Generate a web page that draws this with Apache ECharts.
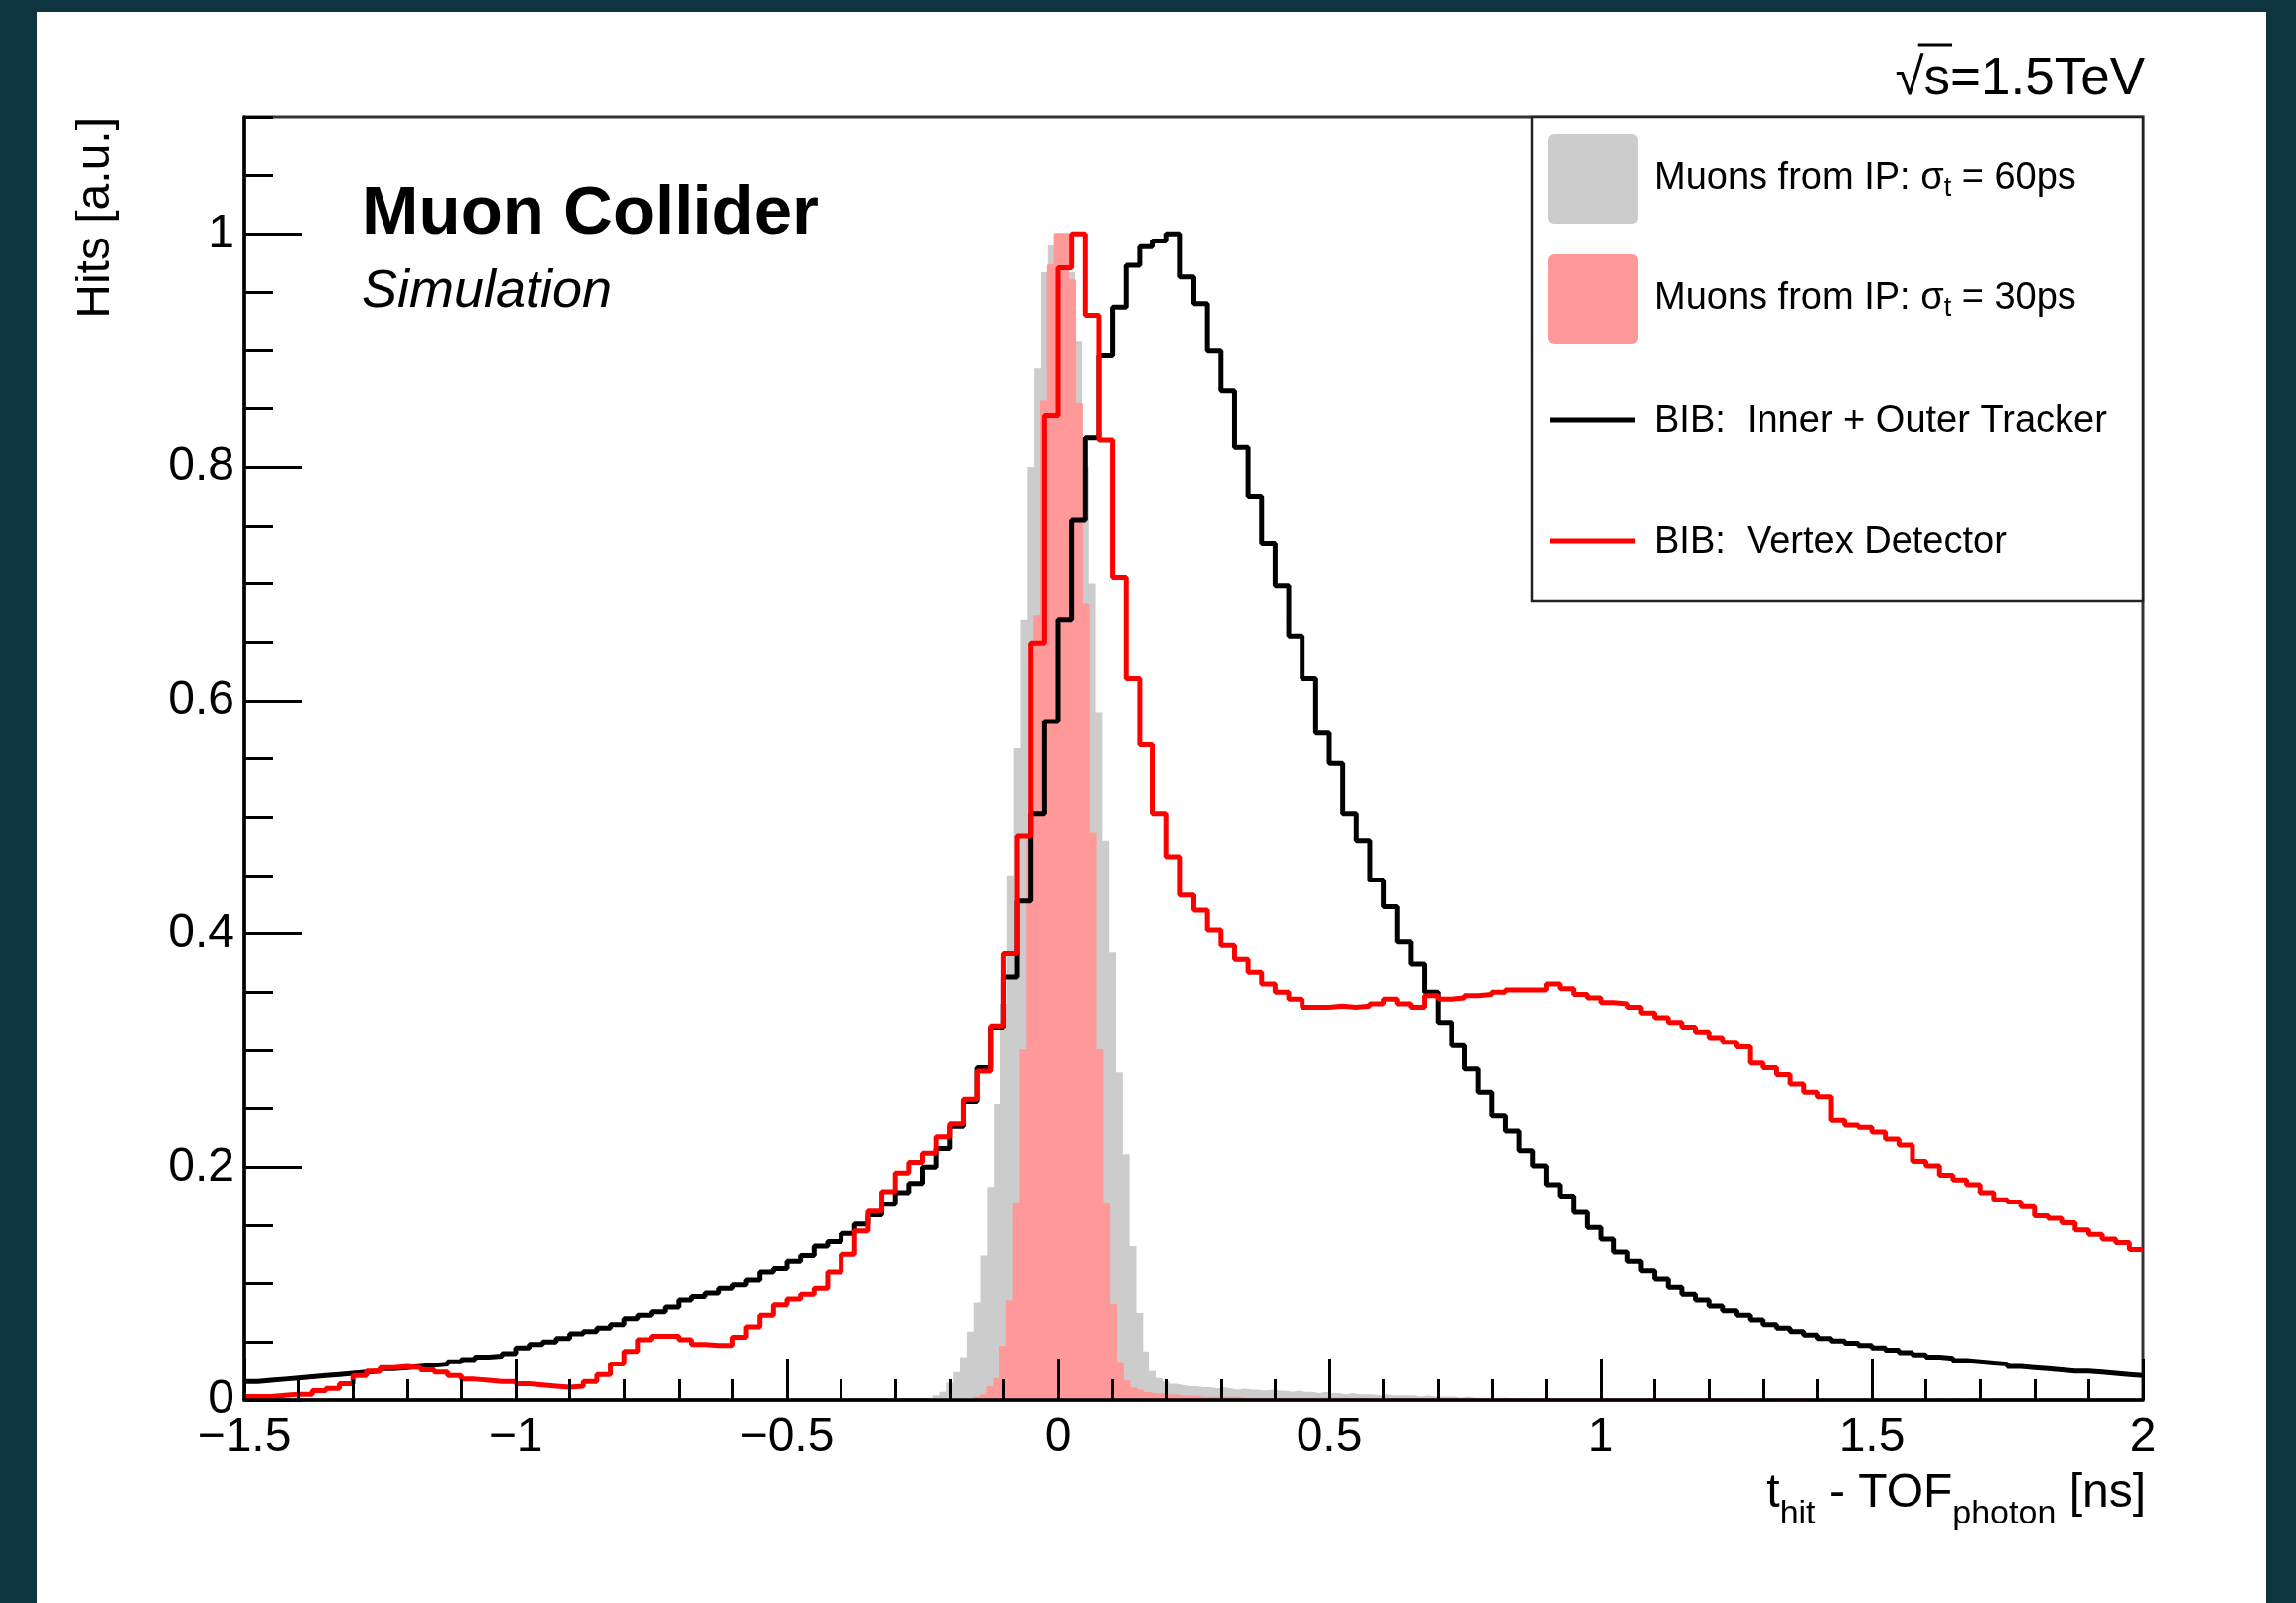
<!DOCTYPE html>
<html><head><meta charset="utf-8">
<script src="https://cdn.jsdelivr.net/npm/echarts@6/dist/echarts.min.js"></script>
<style>
html,body{margin:0;padding:0;width:2311px;height:1613px;overflow:hidden;background:#0e3440;}
#panel{position:absolute;left:37px;top:12px;width:2244px;height:1601px;background:#ffffff;}
#chart{position:absolute;left:0;top:0;width:2311px;height:1613px;}
</style></head><body>
<div id="panel"></div><div id="chart"></div>
<script>
// ---------- data ----------
const xTicks = [-1.5, -1, -0.5, 0, 0.5, 1, 1.5, 2];
const yTicks = [0, 0.2, 0.4, 0.6, 0.8, 1];
const yMax = 1.1;

// BIB histograms: 140 bins of 0.025 ns from -1.5 ns
const bibBinStart = -1.5;
const bibBinWidth = 0.025;
const bibTracker = [
 0.016,0.017,0.018,0.019,0.020,0.021,0.022,0.023,0.024,0.025,
 0.027,0.028,0.029,0.030,0.031,0.033,0.035,0.037,0.038,0.040,
 0.045,0.048,0.050,0.053,0.057,0.059,0.062,0.065,0.070,0.073,
 0.076,0.080,0.086,0.089,0.092,0.096,0.099,0.103,0.110,0.113,
 0.119,0.124,0.132,0.136,0.143,0.151,0.159,0.168,0.178,0.186,
 0.200,0.216,0.235,0.256,0.285,0.320,0.363,0.428,0.503,0.582,
 0.669,0.755,0.825,0.896,0.937,0.973,0.989,0.994,1.000,0.963,
 0.940,0.900,0.866,0.817,0.775,0.735,0.698,0.655,0.619,0.572,
 0.546,0.503,0.480,0.446,0.423,0.393,0.374,0.350,0.324,0.304,
 0.284,0.264,0.244,0.231,0.214,0.201,0.185,0.175,0.161,0.148,
 0.138,0.127,0.119,0.111,0.104,0.097,0.091,0.086,0.081,0.077,
 0.073,0.069,0.065,0.062,0.059,0.056,0.053,0.051,0.049,0.047,
 0.045,0.043,0.041,0.039,0.037,0.036,0.034,0.033,0.032,0.031,
 0.029,0.028,0.027,0.026,0.025,0.025,0.024,0.023,0.022,0.021];
const bibVertex = [
 0.003,0.003,0.004,0.005,0.005,0.008,0.010,0.014,0.021,0.025,
 0.028,0.029,0.028,0.026,0.024,0.021,0.018,0.017,0.016,0.016,
 0.014,0.013,0.012,0.011,0.012,0.016,0.022,0.031,0.042,0.052,
 0.055,0.055,0.052,0.048,0.047,0.047,0.054,0.063,0.073,0.082,
 0.087,0.091,0.096,0.110,0.125,0.145,0.162,0.179,0.195,0.204,
 0.212,0.226,0.237,0.258,0.282,0.321,0.383,0.484,0.649,0.844,
 0.971,1.000,0.930,0.823,0.705,0.619,0.562,0.503,0.466,0.433,
 0.420,0.403,0.390,0.378,0.367,0.357,0.350,0.344,0.337,0.337,
 0.338,0.337,0.338,0.340,0.344,0.340,0.337,0.347,0.344,0.345,
 0.347,0.348,0.350,0.352,0.352,0.352,0.357,0.353,0.348,0.345,
 0.341,0.340,0.337,0.332,0.328,0.324,0.320,0.316,0.311,0.307,
 0.303,0.289,0.285,0.279,0.271,0.264,0.260,0.240,0.236,0.234,
 0.230,0.224,0.219,0.205,0.201,0.193,0.189,0.185,0.178,0.172,
 0.170,0.166,0.158,0.156,0.152,0.146,0.142,0.138,0.135,0.129];

// Muons from IP: fine bins of 0.0125 ns (first value = bin centred at firstCentre)
const muonBinWidth = 0.0125;
const muon60FirstCentre = -0.25;
const muon60 = [
 0.001,0.002,0.004,0.007,0.015,0.024,0.037,0.059,0.084,0.124,
 0.183,0.254,0.340,0.450,0.559,0.669,0.800,0.885,0.967,0.990,
 1.000,0.990,0.967,0.908,0.800,0.700,0.590,0.480,0.384,0.281,
 0.211,0.132,0.075,0.042,0.025,0.019,0.016,0.014,0.013,0.012,
 0.012,0.011,0.011,0.010,0.011,0.010,0.009,0.010,0.009,0.009,
 0.008,0.009,0.008,0.008,0.007,0.008,0.007,0.007,0.006,0.007,
 0.006,0.006,0.005,0.006,0.005,0.005,0.005,0.004,0.005,0.004,
 0.004,0.004,0.004,0.003,0.004,0.003,0.003,0.003,0.003,0.002,
 0.003,0.002,0.002,0.002,0.002,0.002,0.002,0.001,0.002,0.001,
 0.001,0.001,0.001,0.001,0.001,0.001,0.001,0.001,0.001,0.001,0.001];
const muon30FirstCentre = -0.15;
const muon30 = [
 0.002,0.004,0.011,0.018,0.046,0.085,0.168,0.300,0.480,0.672,
 0.857,0.973,1.000,1.000,0.960,0.854,0.682,0.486,0.300,0.168,
 0.082,0.032,0.016,0.010,0.008,0.006,0.005,0.005,0.004,0.004,
 0.003,0.003,0.003,0.002,0.002,0.002,0.002,0.002,0.002,0.001,
 0.001,0.001,0.001,0.001,0.001,0.001,0.001,0.001,0.001,0.001,
 0.001,0.001,0.001];

const legendLabels = ['Muons from IP: ', 'Muons from IP: ', 'BIB:  Inner + Outer Tracker', 'BIB:  Vertex Detector'];
const legendSigma = ['60ps', '30ps'];

// ---------- helpers ----------
function histOutline(start, width, vals) {
  const pts = vals.map((v, i) => [start + i * width, v]);
  pts.push([start + vals.length * width, vals[vals.length - 1]]);
  return pts;
}
function histFilled(firstCentre, width, vals, xmin, xmax) {
  const left = firstCentre - width / 2;
  const pts = [[xmin, 0]];
  vals.forEach((v, i) => pts.push([left + i * width, v]));
  pts.push([left + vals.length * width, 0]);
  pts.push([xmax, 0]);
  return pts;
}
const mctx = document.createElement('canvas').getContext('2d');
function tw(text, font) { mctx.font = font; return mctx.measureText(text).width; }

// ---------- layout ----------
const FF = '"Liberation Sans", Arial, Helvetica, sans-serif';
const G = { left: 246, top: 118, width: 1911, height: 1291 };
const gRight = G.left + G.width;

const xmin = xTicks[0], xmax = xTicks[xTicks.length - 1];
const fmt = v => (v < 0 ? '\u2212' : '') + String(Math.abs(+v.toFixed(3)));

const graphics = [];
function txt(x, y, text, font, align, extra) {
  const e = { type: 'text', x: x, y: y, z: 100,
    style: { text: text, font: font, fill: '#000', textAlign: align || 'left', textVerticalAlign: 'middle', align: align || 'left', verticalAlign: 'middle' } };
  return Object.assign(e, extra || {});
}

// Muon Collider / Simulation
graphics.push(txt(364, 216, 'Muon Collider', 'bold 69px ' + FF));
graphics.push(txt(364, 294, 'Simulation', 'italic 54px ' + FF));

// sqrt(s) label
(function () {
  const f = '53px ' + FF;
  const full = '\u221As=1.5TeV';
  const W = tw(full, f);
  const x0 = gRight + 2 - W;
  const wr = tw('\u221A', f), ws = tw('\u221As', f);
  graphics.push(txt(x0, 80, full, f));
  graphics.push({ type: 'line', z: 100, shape: { x1: x0 + wr * 0.8, y1: 45, x2: x0 + ws + 2, y2: 45 }, style: { stroke: '#000', lineWidth: 3 } });
})();

// Y title
graphics.push(txt(97, G.top, 'Hits [a.u.]', '48px ' + FF, 'right', { rotation: Math.PI / 2 }));

// X title: t_hit - TOF_photon [ns]
(function () {
  const fm = '48px ' + FF, fs = '34px ' + FF;
  const parts = [['t', fm, 0], ['hit', fs, 1], [' - TOF', fm, 0], ['photon', fs, 1], [' [ns]', fm, 0]];
  let total = 0; parts.forEach(p => total += tw(p[0], p[1]));
  let x = gRight + 3 - total;
  parts.forEach(p => {
    graphics.push(txt(x, p[2] ? 1524 : 1503, p[0], p[1]));
    x += tw(p[0], p[1]);
  });
})();

// Legend
(function () {
  const L = { x: 1542, y: G.top, w: gRight - 1542, h: 487 };
  graphics.push({ type: 'rect', z: 90, shape: { x: L.x, y: L.y, width: L.w, height: L.h }, style: { fill: '#fff', stroke: '#222', lineWidth: 2.5 } });
  const rowY = [180, 301, 423, 544];
  const fillCols = ['#cccccc', '#ff9999'];
  const lineCols = ['#000000', '#ff0000'];
  const fm = '38px ' + FF, fs = '27px ' + FF;
  for (let i = 0; i < 2; i++) {
    graphics.push({ type: 'rect', z: 100, shape: { x: 1558, y: rowY[i] - 45, width: 91, height: 90, r: 6 }, style: { fill: fillCols[i] } });
    let x = 1665;
    graphics.push(txt(x, rowY[i], legendLabels[i] + '\u03C3', fm)); x += tw(legendLabels[i] + '\u03C3', fm);
    graphics.push(txt(x, rowY[i] + 10, 't', fs)); x += tw('t', fs);
    graphics.push(txt(x, rowY[i], ' = ' + legendSigma[i], fm));
  }
  for (let i = 0; i < 2; i++) {
    graphics.push({ type: 'line', z: 100, shape: { x1: 1560, y1: rowY[i + 2], x2: 1646, y2: rowY[i + 2] }, style: { stroke: lineCols[i], lineWidth: 5 } });
    graphics.push(txt(1665, rowY[i + 2] + 2, legendLabels[i + 2], fm));
  }
})();

const axisLineStyle = { color: '#000', width: 3.5 };
const tickStyle = { color: '#000', width: 3 };

const option = {
  animation: false,
  backgroundColor: 'transparent',
  grid: { left: G.left, top: G.top, width: G.width, height: G.height, show: true, borderColor: '#333', borderWidth: 3, backgroundColor: 'transparent', containLabel: false },
  xAxis: {
    type: 'value', min: xmin, max: xmax, interval: xTicks[1] - xTicks[0], position: 'bottom', z: 10,
    axisLine: { show: true, onZero: false, lineStyle: axisLineStyle },
    axisTick: { show: true, inside: true, length: 42, lineStyle: tickStyle },
    minorTick: { show: true, splitNumber: 5, length: 21, lineStyle: tickStyle },
    splitLine: { show: false }, minorSplitLine: { show: false },
    axisLabel: { fontSize: 48, fontFamily: FF, color: '#000', margin: 14, formatter: fmt }
  },
  yAxis: [
    { type: 'value', min: yTicks[0], max: yMax, interval: yTicks[1] - yTicks[0], position: 'left', z: 10,
      axisLine: { show: true, onZero: false, lineStyle: axisLineStyle },
      axisTick: { show: true, inside: true, length: 58, lineStyle: tickStyle },
      splitLine: { show: false },
      axisLabel: { fontSize: 48, fontFamily: FF, color: '#000', margin: 10, showMaxLabel: false, formatter: fmt } },
    { type: 'value', min: 0, max: yMax, interval: 0.05, position: 'left', z: 10,
      axisLine: { show: false, onZero: false },
      axisTick: { show: true, inside: true, length: 29, lineStyle: tickStyle },
      splitLine: { show: false }, axisLabel: { show: false } }
  ],
  series: [
    { name: 'Muons 60ps', type: 'line', step: 'end', z: 1, symbol: 'none', showSymbol: false, silent: true,
      data: histFilled(muon60FirstCentre, muonBinWidth, muon60, xmin, xmax),
      lineStyle: { width: 0, opacity: 0 }, areaStyle: { color: '#cccccc', opacity: 1 } },
    { name: 'Muons 30ps', type: 'line', step: 'end', z: 2, symbol: 'none', showSymbol: false, silent: true,
      data: histFilled(muon30FirstCentre, muonBinWidth, muon30, xmin, xmax),
      lineStyle: { width: 2, color: '#ff9999' }, areaStyle: { color: '#ff9999', opacity: 1 } },
    { name: 'BIB tracker', type: 'line', step: 'end', z: 3, symbol: 'none', showSymbol: false, silent: true,
      data: histOutline(bibBinStart, bibBinWidth, bibTracker),
      lineStyle: { width: 5, color: '#000000' } },
    { name: 'BIB vertex', type: 'line', step: 'end', z: 4, symbol: 'none', showSymbol: false, silent: true,
      data: histOutline(bibBinStart, bibBinWidth, bibVertex),
      lineStyle: { width: 5, color: '#ff0000' } }
  ],
  graphic: graphics
};
const chart = echarts.init(document.getElementById('chart'), null, { renderer: 'canvas' });
chart.setOption(option);
</script>
</body></html>
